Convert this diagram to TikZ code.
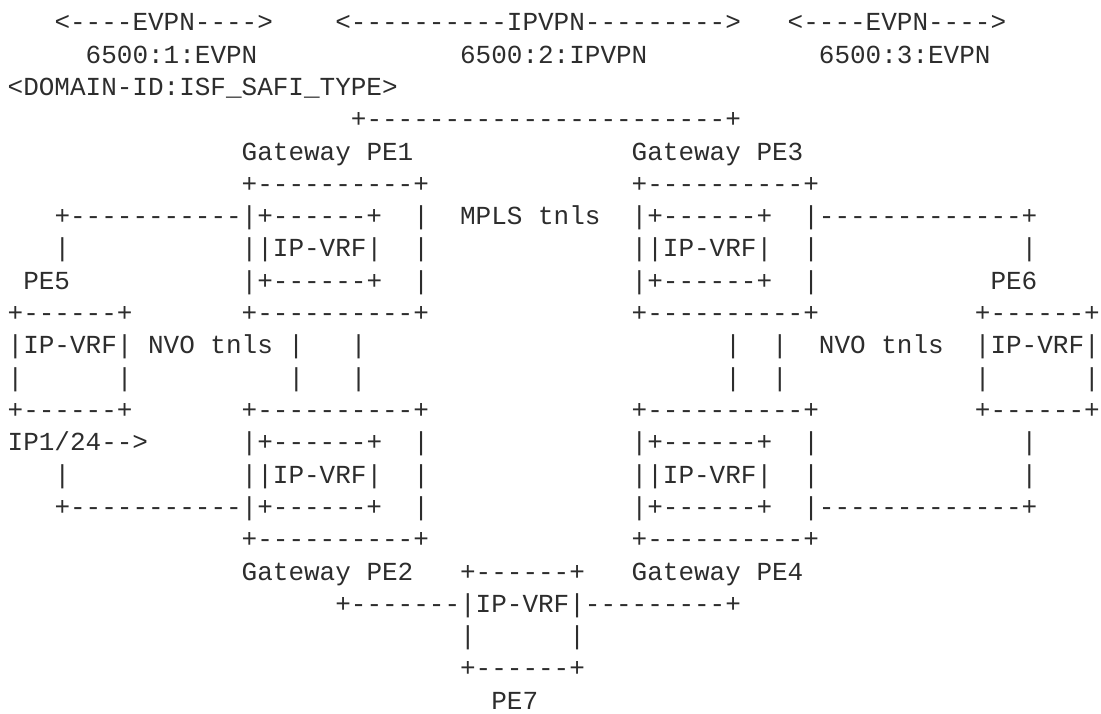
\documentclass[tikz,border=0pt]{standalone}
\usepackage{fontspec}
\setmonofont{Liberation Mono}
\definecolor{ink}{RGB}{45,45,45}
\tikzset{
  txt/.style={anchor=base west, inner sep=0pt, outer sep=0pt, text=ink,
    font=\ttfamily\fontsize{26}{26}\selectfont}
}
\newcommand{\seg}[4]{\node[txt] (#1) at ({7.7+#2*15.6},{713-(30.9+(#3-1)*32.3)}) {#4};}
\begin{document}
\begin{tikzpicture}[x=1pt,y=1pt]
\useasboundingbox (0,0) rectangle (1101,713);
\fill[white] (0,0) rectangle (1101,713);
% row 1
\seg{a1}{3}{1}{<----EVPN---->}
\seg{b1}{21}{1}{<----------IPVPN--------->}
\seg{c1}{50}{1}{<----EVPN---->}
% row 2
\seg{a2}{5}{2}{6500:1:EVPN}
\seg{b2}{29}{2}{6500:2:IPVPN}
\seg{c2}{52}{2}{6500:3:EVPN}
% row 3
\seg{a3}{0}{3}{<DOMAIN-ID:ISF\_SAFI\_TYPE>}
% row 4
\seg{a4}{22}{4}{+-----------------------+}
% row 5
\seg{a5}{15}{5}{Gateway PE1}
\seg{b5}{40}{5}{Gateway PE3}
% row 6
\seg{a6}{15}{6}{+----------+}
\seg{b6}{40}{6}{+----------+}
% row 7
\seg{a7}{3}{7}{+-----------|+------+}
\seg{b7}{26}{7}{|}
\seg{c7}{29}{7}{MPLS tnls}
\seg{d7}{40}{7}{|+------+}
\seg{e7}{51}{7}{|-------------+}
% row 8
\seg{a8}{3}{8}{|}
\seg{b8}{15}{8}{||IP-VRF|}
\seg{c8}{26}{8}{|}
\seg{d8}{40}{8}{||IP-VRF|}
\seg{e8}{51}{8}{|}
\seg{f8}{65}{8}{|}
% row 9
\seg{a9}{1}{9}{PE5}
\seg{b9}{15}{9}{|+------+}
\seg{c9}{26}{9}{|}
\seg{d9}{40}{9}{|+------+}
\seg{e9}{51}{9}{|}
\seg{f9}{63}{9}{PE6}
% row 10
\seg{a10}{0}{10}{+------+}
\seg{b10}{15}{10}{+----------+}
\seg{c10}{40}{10}{+----------+}
\seg{d10}{62}{10}{+------+}
% row 11
\seg{a11}{0}{11}{|IP-VRF| NVO tnls |}
\seg{b11}{22}{11}{|}
\seg{c11}{46}{11}{|}
\seg{d11}{49}{11}{|}
\seg{e11}{52}{11}{NVO tnls}
\seg{f11}{62}{11}{|IP-VRF|}
% row 12
\seg{a12}{0}{12}{|}
\seg{b12}{7}{12}{|}
\seg{c12}{18}{12}{|}
\seg{d12}{22}{12}{|}
\seg{e12}{46}{12}{|}
\seg{f12}{49}{12}{|}
\seg{g12}{62}{12}{|}
\seg{h12}{69}{12}{|}
% row 13
\seg{a13}{0}{13}{+------+}
\seg{b13}{15}{13}{+----------+}
\seg{c13}{40}{13}{+----------+}
\seg{d13}{62}{13}{+------+}
% row 14
\seg{a14}{0}{14}{IP1/24-->}
\seg{b14}{15}{14}{|+------+}
\seg{c14}{26}{14}{|}
\seg{d14}{40}{14}{|+------+}
\seg{e14}{51}{14}{|}
\seg{f14}{65}{14}{|}
% row 15
\seg{a15}{3}{15}{|}
\seg{b15}{15}{15}{||IP-VRF|}
\seg{c15}{26}{15}{|}
\seg{d15}{40}{15}{||IP-VRF|}
\seg{e15}{51}{15}{|}
\seg{f15}{65}{15}{|}
% row 16
\seg{a16}{3}{16}{+-----------|+------+}
\seg{b16}{26}{16}{|}
\seg{c16}{40}{16}{|+------+}
\seg{d16}{51}{16}{|-------------+}
% row 17
\seg{a17}{15}{17}{+----------+}
\seg{b17}{40}{17}{+----------+}
% row 18
\seg{a18}{15}{18}{Gateway PE2}
\seg{b18}{29}{18}{+------+}
\seg{c18}{40}{18}{Gateway PE4}
% row 19
\seg{a19}{21}{19}{+-------|IP-VRF|---------+}
% row 20
\seg{a20}{29}{20}{|}
\seg{b20}{36}{20}{|}
% row 21
\seg{a21}{29}{21}{+------+}
% row 22
\seg{a22}{31}{22}{PE7}
\end{tikzpicture}
\end{document}
